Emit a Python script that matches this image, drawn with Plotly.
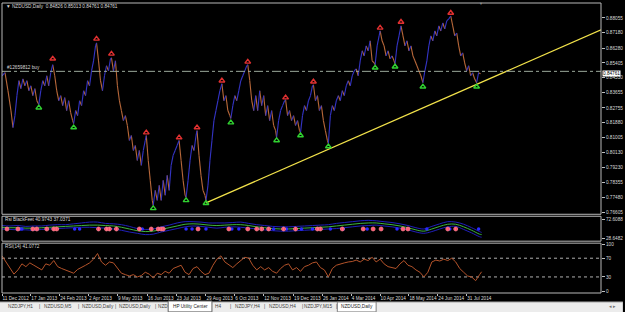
import plotly.graph_objects as go

# ---------------- DATA ----------------
bar = [2, 5, 8, 11, 13, 15, 17, 19, 21, 23, 25, 27, 29, 31, 33, 35, 37, 39, 41, 43, 45, 47, 49, 51, 53, 55, 57, 59,
       61, 63, 65, 67, 69, 71, 73, 74, 76, 78, 80, 82, 84, 86, 88, 90, 92, 94, 96, 97, 99, 101, 103, 105, 107, 109,
       111, 112, 114, 116, 118, 120, 122, 124, 126, 128, 130, 132, 134, 136, 138, 140, 142, 144, 146, 147, 149, 151,
       153, 154, 156, 158, 160, 162, 164, 166, 168, 170, 172, 174, 176, 178, 180, 182, 184, 186, 187, 189, 191, 193,
       195, 197, 198, 200, 202, 204, 206, 207, 209, 211, 213, 215, 217, 219, 221, 223, 225, 227, 229, 231, 232, 234,
       236, 238, 240, 242, 244, 246, 248, 249, 251, 253, 255, 257, 259, 261, 263, 265, 267, 269, 271, 273, 275, 277,
       278, 280, 282, 284, 286, 287, 289, 291, 293, 295, 297, 299, 301, 302, 304, 306, 308, 310, 312, 314, 315, 317,
       319, 321, 323, 325, 327, 329, 330, 332, 334, 336, 338, 340, 342, 344, 346, 348, 350, 352, 354, 356, 358, 360,
       362, 364, 366, 368, 370, 372, 374, 376, 377, 379, 381, 382, 384, 386, 388, 390, 392, 394, 396, 397, 399, 401,
       403, 405, 407, 409, 411, 413, 415, 417, 419, 421, 423, 425, 427, 429, 431, 433, 435, 437, 439, 441, 443, 445,
       447, 449, 451, 453, 455, 457, 459, 461, 463, 465, 467, 469, 471, 473, 475, 477, 479, 481, 483]
close = [0.8465, 0.8483, 0.8377, 0.8260, 0.8160, 0.8230, 0.8348, 0.8436, 0.8389, 0.8447, 0.8406, 0.8436, 0.8377,
         0.8406, 0.8348, 0.8389, 0.8318, 0.8295, 0.8377, 0.8436, 0.8406, 0.8465, 0.8406, 0.8483, 0.8530, 0.8465,
         0.8377, 0.8318, 0.8348, 0.8289, 0.8336, 0.8260, 0.8318, 0.8248, 0.8201, 0.8183, 0.8260, 0.8230, 0.8318,
         0.8289, 0.8377, 0.8348, 0.8436, 0.8406, 0.8494, 0.8553, 0.8641, 0.8659, 0.8553, 0.8436, 0.8377, 0.8465,
         0.8524, 0.8494, 0.8565, 0.8571, 0.8494, 0.8553, 0.8406, 0.8318, 0.8260, 0.8201, 0.8230, 0.8172, 0.8084,
         0.8113, 0.8025, 0.8054, 0.7966, 0.8025, 0.7937, 0.8025, 0.8084, 0.8113, 0.7966, 0.7849, 0.7731, 0.7702,
         0.7790, 0.7731, 0.7819, 0.7731, 0.7849, 0.7761, 0.7878, 0.7790, 0.7937, 0.7996, 0.8025, 0.8054, 0.8084,
         0.7966, 0.7849, 0.7761, 0.7749, 0.7849, 0.7966, 0.8054, 0.8025, 0.8113, 0.8142, 0.7996, 0.7878, 0.7790,
         0.7761, 0.7731, 0.7819, 0.7966, 0.8084, 0.8201, 0.8260, 0.8318, 0.8377, 0.8418, 0.8318, 0.8348, 0.8260,
         0.8230, 0.8213, 0.8289, 0.8348, 0.8318, 0.8377, 0.8436, 0.8465, 0.8494, 0.8524, 0.8530, 0.8436, 0.8318,
         0.8260, 0.8348, 0.8260, 0.8377, 0.8289, 0.8348, 0.8230, 0.8289, 0.8201, 0.8260, 0.8172, 0.8142, 0.8101,
         0.8201, 0.8260, 0.8289, 0.8318, 0.8324, 0.8230, 0.8260, 0.8201, 0.8230, 0.8172, 0.8201, 0.8142, 0.8130,
         0.8230, 0.8289, 0.8260, 0.8318, 0.8348, 0.8406, 0.8412, 0.8318, 0.8348, 0.8260, 0.8289, 0.8201, 0.8142,
         0.8084, 0.8066, 0.8230, 0.8289, 0.8260, 0.8318, 0.8348, 0.8318, 0.8377, 0.8348, 0.8406, 0.8436, 0.8406,
         0.8465, 0.8494, 0.8506, 0.8465, 0.8553, 0.8612, 0.8582, 0.8641, 0.8612, 0.8671, 0.8553, 0.8541, 0.8530,
         0.8641, 0.8700, 0.8729, 0.8671, 0.8641, 0.8582, 0.8612, 0.8565, 0.8582, 0.8553, 0.8536, 0.8641, 0.8700,
         0.8759, 0.8700, 0.8641, 0.8671, 0.8612, 0.8641, 0.8582, 0.8553, 0.8524, 0.8494, 0.8465, 0.8424, 0.8494,
         0.8553, 0.8641, 0.8700, 0.8671, 0.8729, 0.8700, 0.8759, 0.8729, 0.8776, 0.8741, 0.8788, 0.8800, 0.8817,
         0.8759, 0.8700, 0.8717, 0.8641, 0.8582, 0.8600, 0.8541, 0.8494, 0.8524, 0.8465, 0.8483, 0.8447, 0.8424,
         0.8483, 0.8476]

fractal_up_bar = [53, 97, 112, 147, 180, 198, 223, 249, 287, 315, 382, 403, 453]
fractal_up_price = [0.8565, 0.8682, 0.8594, 0.8130, 0.8101, 0.8160, 0.8436, 0.8547, 0.8336, 0.8430, 0.8747, 0.8782, 0.8835]
fractal_dn_bar = [39, 74, 154, 187, 207, 232, 278, 302, 330, 377, 397, 425, 479]
fractal_dn_price = [0.8277, 0.8160, 0.7684, 0.7731, 0.7714, 0.8189, 0.8084, 0.8113, 0.8048, 0.8512, 0.8518, 0.8400, 0.8400]

trend_bar = [207, 604]
trend_price = [0.7716, 0.8735]
entry_price = 0.8491
bid_price = 0.84761

price_ticks = [0.88055, 0.87180, 0.86280, 0.85405, 0.84530, 0.83655, 0.82755, 0.81880,
               0.81005, 0.80130, 0.79230, 0.78355, 0.77480, 0.76605]

date_tick_bar = [2, 31, 60, 89, 118, 148, 177, 207, 236, 265, 295, 324, 353, 382, 411, 440, 469]
date_labels = ["11 Dec 2012", "17 Jan 2013", "24 Feb 2013", "2 Apr 2013", "9 May 2013", "16 Jun 2013",
               "23 Jul 2013", "29 Aug 2013", "6 Oct 2013", "12 Nov 2013", "19 Dec 2013", "26 Jan 2014",
               "4 Mar 2014", "10 Apr 2014", "18 May 2014", "24 Jun 2014", "31 Jul 2014"]

# BlackFeet indicator
bf_bar = [2, 10, 18, 26, 34, 42, 50, 58, 66, 74, 82, 90, 98, 106, 114, 122, 130, 138, 146, 154, 162, 170, 178, 186,
          194, 202, 210, 218, 226, 234, 242, 250, 258, 266, 274, 282, 290, 298, 306, 314, 322, 330, 338, 346, 354,
          362, 370, 378, 386, 394, 402, 410, 418, 426, 434, 442, 450, 458, 466, 474, 482, 484]
bf_green = [54, 53, 53, 52, 52, 53, 54, 55, 56, 57, 58, 59, 59, 58, 57, 54, 50, 46, 44, 45, 49, 53, 57, 61, 62, 61,
            59, 58, 59, 60, 60, 58, 55, 53, 51, 50, 50, 51, 52, 53, 54, 55, 57, 59, 61, 63, 64, 64, 62, 60, 57, 53,
            48, 45, 50, 56, 61, 61, 55, 47, 38, 37.04]
bf_upper = [58, 57, 58, 56, 57, 57, 59, 60, 60, 62, 64, 66, 66, 63, 62, 60, 56, 51, 49, 50, 55, 59, 64, 67, 67, 66,
            64, 64, 64, 65, 66, 63, 60, 58, 56, 55, 55, 56, 57, 58, 59, 60, 63, 65, 67, 69, 70, 69, 67, 65, 62, 58,
            53, 50, 56, 62, 67, 66, 61, 53, 44, 42]
bf_lower = [50, 49, 48, 48, 47, 49, 50, 51, 52, 53, 54, 54, 53, 52, 50, 47, 43, 40, 37, 38, 43, 47, 51, 55, 57, 56,
            54, 52, 54, 55, 54, 52, 50, 48, 46, 45, 45, 46, 47, 48, 49, 50, 51, 53, 55, 57, 58, 59, 57, 55, 52, 48,
            43, 40, 44, 50, 55, 56, 49, 41, 32, 31]
bf_red_dots = [7, 18, 33, 37, 47, 54, 57, 99, 107, 110, 117, 140, 152, 159, 162, 164, 199, 230, 249, 258, 263, 270,
               285, 297, 319, 322, 344, 365, 375, 383, 405, 410, 450, 458]
bf_blue_dots = [20, 22, 75, 80, 143, 187, 193, 207, 233, 240, 275, 288, 303, 314, 332, 345, 369, 399, 429, 452, 481]
bf_ticks = [72.6088, 28.6482]

# RSI(14)
rsi_bar = [2, 6, 10, 14, 18, 22, 26, 30, 34, 38, 42, 46, 50, 54, 58, 62, 66, 70, 74, 78, 82, 86, 90, 94, 98, 102,
           106, 110, 114, 118, 122, 126, 130, 134, 138, 142, 146, 150, 154, 158, 162, 166, 170, 174, 178, 182, 186,
           190, 194, 198, 202, 206, 210, 214, 218, 222, 226, 230, 234, 238, 242, 246, 250, 254, 258, 262, 266, 270,
           274, 278, 282, 286, 290, 294, 298, 302, 306, 310, 314, 318, 322, 326, 330, 334, 338, 342, 346, 350, 354,
           358, 362, 366, 370, 374, 378, 382, 386, 390, 394, 398, 402, 406, 410, 414, 418, 422, 426, 430, 434, 438,
           442, 446, 450, 454, 458, 462, 466, 470, 474, 478, 482, 484]
rsi = [75, 62, 48, 36, 45, 58, 52, 60, 55, 50, 45, 58, 55, 65, 52, 48, 45, 42, 38, 46, 50, 55, 60, 68, 80, 62, 55,
       62, 60, 48, 38, 35, 32, 35, 30, 33, 40, 36, 28, 38, 35, 42, 38, 48, 52, 55, 40, 35, 48, 52, 42, 35, 38, 55,
       68, 75, 62, 55, 50, 58, 65, 72, 70, 55, 45, 52, 45, 50, 42, 38, 48, 55, 58, 45, 50, 42, 52, 55, 60, 62, 50,
       45, 30, 48, 55, 58, 60, 62, 63, 66, 62, 68, 65, 72, 62, 68, 58, 52, 50, 48, 58, 65, 55, 52, 45, 40, 30, 40,
       62, 66, 64, 68, 65, 70, 62, 48, 40, 32, 30, 22, 35, 41.0772]
rsi_levels = [70, 30]
rsi_ticks = [100, 70, 30, 0]

tab_labels = ["NZDJPY,H1", "|", "NZDUSD,M5", "|", "NZDUSD,Daily", "|", "NZDUSD,Daily", "|", "NZD", "H4", "|",
              "NZDJPY,H4", "|", "NZDUSD,H4", "|", "NZDJPY,M15", "|"]

# ---------------- LAYOUT HELPERS ----------------
W, H = 625, 312
ML, MR, MT, MB = 2, 21, 2, 19
PW, PH = W - ML - MR, H - MT - MB


def xp(px):
    return (px - ML) / PW


def yp(py):
    return (H - MB - py) / PH


FONT = "Liberation Sans"
FS = 4.7
TXT = "#d8d8d8"
UP = "#3434c4"
DN = "#b8683a"

fig = go.Figure()

# price path coloured by direction
ux, uy, dx, dy = [], [], [], []
for i in range(1, len(bar)):
    seg_x = [bar[i - 1], bar[i], None]
    seg_y = [close[i - 1], close[i], None]
    if close[i] >= close[i - 1]:
        ux += seg_x; uy += seg_y
    else:
        dx += seg_x; dy += seg_y
fig.add_trace(go.Scatter(x=dx, y=dy, mode="lines", line=dict(color=DN, width=1.1), xaxis="x", yaxis="y",
                         hoverinfo="skip"))
fig.add_trace(go.Scatter(x=ux, y=uy, mode="lines", line=dict(color=UP, width=1.1), xaxis="x", yaxis="y",
                         hoverinfo="skip"))

# trend line
fig.add_trace(go.Scatter(x=trend_bar, y=trend_price, mode="lines", line=dict(color="#f2e24a", width=1.2),
                         xaxis="x", yaxis="y", hoverinfo="skip"))

# fractal markers
fig.add_trace(go.Scatter(x=fractal_up_bar, y=fractal_up_price, mode="markers",
                         marker=dict(symbol="triangle-up-open", size=5, color="#e03030", line=dict(width=1.4)),
                         xaxis="x", yaxis="y", hoverinfo="skip"))
fig.add_trace(go.Scatter(x=fractal_dn_bar, y=fractal_dn_price, mode="markers",
                         marker=dict(symbol="triangle-up-open", size=5, color="#30d030", line=dict(width=1.4)),
                         xaxis="x", yaxis="y", hoverinfo="skip"))

# BlackFeet panel
fig.add_trace(go.Scatter(x=bf_bar, y=bf_upper, mode="lines", line=dict(color="#2020b8", width=1, shape="spline"),
                         xaxis="x", yaxis="y2", hoverinfo="skip"))
fig.add_trace(go.Scatter(x=bf_bar, y=bf_lower, mode="lines", line=dict(color="#2020b8", width=1, shape="spline"),
                         xaxis="x", yaxis="y2", hoverinfo="skip"))
fig.add_trace(go.Scatter(x=bf_bar, y=bf_green, mode="lines", line=dict(color="#3cb43c", width=1, shape="spline"),
                         xaxis="x", yaxis="y2", hoverinfo="skip"))
DOT_LEVEL = 50
fig.add_trace(go.Scatter(x=bf_blue_dots, y=[DOT_LEVEL] * len(bf_blue_dots), mode="markers",
                         marker=dict(symbol="circle", size=3.5, color="#2a2aff"),
                         xaxis="x", yaxis="y2", hoverinfo="skip"))
fig.add_trace(go.Scatter(x=bf_red_dots, y=[DOT_LEVEL] * len(bf_red_dots), mode="markers",
                         marker=dict(symbol="circle-cross", size=4, color="#ff2a4a", line=dict(color="#ff8a9a", width=0.7)),
                         xaxis="x", yaxis="y2", hoverinfo="skip"))

# RSI panel
for lv in rsi_levels:
    fig.add_trace(go.Scatter(x=[2, 604], y=[lv, lv], mode="lines", line=dict(color="#b0b0b0", width=1, dash="dot"),
                             xaxis="x", yaxis="y3", hoverinfo="skip"))
fig.add_trace(go.Scatter(x=rsi_bar, y=rsi, mode="lines", line=dict(color="#b4532a", width=1),
                         xaxis="x", yaxis="y3", hoverinfo="skip"))

# entry line
fig.add_trace(go.Scatter(x=[2, 604], y=[entry_price, entry_price], mode="lines",
                         line=dict(color="#9aa89a", width=1, dash="dashdot"), xaxis="x", yaxis="y", hoverinfo="skip"))

axis_common = dict(showgrid=False, zeroline=False, showline=False, side="right", anchor="x",
                   ticks="outside", ticklen=3, tickcolor="#c0c0c0",
                   tickfont=dict(family=FONT, size=FS, color=TXT))

fig.update_layout(
    width=W, height=H, margin=dict(l=ML, r=MR, t=MT, b=MB),
    paper_bgcolor="#000000", plot_bgcolor="#000000", showlegend=False,
    xaxis=dict(domain=[0, 1], range=[2, 604], anchor="y3", showgrid=False, zeroline=False, showline=False,
               tickvals=date_tick_bar, ticktext=date_labels, ticks="outside", ticklen=2, tickcolor="#c0c0c0",
               ticklabelposition="outside right", tickangle=0,
               tickfont=dict(family=FONT, size=FS, color=TXT)),
    yaxis=dict(domain=[yp(214), 1], range=[0.76491, 0.88936], tickvals=price_ticks,
               ticktext=[f"{v:.5f}" for v in price_ticks], **axis_common),
    yaxis2=dict(domain=[yp(241), yp(216)], range=[21.71, 79.55], tickvals=bf_ticks,
                ticktext=[f"{v:.4f}" for v in bf_ticks], **axis_common),
    yaxis3=dict(domain=[0, yp(243)], range=[-4.26, 102.1], tickvals=rsi_ticks,
                ticktext=[str(v) for v in rsi_ticks], **axis_common),
)

shapes = []
# panel borders
for top, bot in [(1, yp(214)), (yp(216), yp(241)), (yp(243), 0)]:
    shapes.append(dict(type="rect", xref="paper", yref="paper", x0=0, x1=1, y0=bot, y1=top,
                       line=dict(color="#b8b8b8", width=1), layer="above"))
# bottom tab bar
shapes.append(dict(type="rect", xref="paper", yref="paper", x0=xp(-1), x1=xp(626), y0=yp(312.5), y1=yp(302),
                   fillcolor="#ececec", line=dict(width=0), layer="above"))
shapes.append(dict(type="line", xref="paper", yref="paper", x0=xp(-1), x1=xp(626), y0=yp(302), y1=yp(302),
                   line=dict(color="#a0a0a0", width=1), layer="above"))
# active tab
shapes.append(dict(type="rect", xref="paper", yref="paper", x0=xp(339), x1=xp(378), y0=yp(312), y1=yp(302),
                   fillcolor="#ffffff", line=dict(color="#808080", width=1), layer="above"))
# tooltip
shapes.append(dict(type="rect", xref="paper", yref="paper", x0=xp(169), x1=xp(213), y0=yp(312), y1=yp(301),
                   fillcolor="#ffffff", line=dict(color="#606060", width=1), layer="above"))
fig.update_layout(shapes=shapes)

ann = []


def text(px, py, s, color=TXT, anchor="left", size=FS, bg=None):
    d = dict(xref="paper", yref="paper", x=xp(px), y=yp(py), text=s, showarrow=False, xanchor=anchor,
             yanchor="middle", font=dict(family=FONT, size=size, color=color))
    if bg:
        d.update(bgcolor=bg, borderpad=0)
    ann.append(d)


text(4, 6, "▼ NZDUSD,Daily  0.84826 0.85013 0.84761 0.84761")
text(5, 67, "#12659812 buy")
text(3, 219.5, "Rsi BlackFeet 40.9743 37.0371")
text(3, 246, "RSI(14) 41.0772")
text(483, 2, "▼", color="#909090", anchor="center", size=4)
ann.append(dict(xref="paper", yref="y", x=xp(605), y=bid_price, text="0.84761", showarrow=False,
                xanchor="left", yanchor="middle", bgcolor="#ffffff", borderpad=0,
                font=dict(family=FONT, size=FS, color="#000000")))

tab_px = [6, 37, 42, 76, 80, 114, 118, 154, 157, 214, 229, 234, 263, 268, 301, 304, 336]
for px, s in zip(tab_px, tab_labels):
    text(px, 307, s, color="#404040")
text(191, 306.5, "HP Utility Center", color="#202020", anchor="center")
text(358.5, 307, "NZDUSD,Daily", color="#202020", anchor="center")
text(616, 307, "◂ ▸", color="#707070", anchor="center")
fig.update_layout(annotations=ann)

fig.write_html("out.html", config={"displayModeBar": False})
